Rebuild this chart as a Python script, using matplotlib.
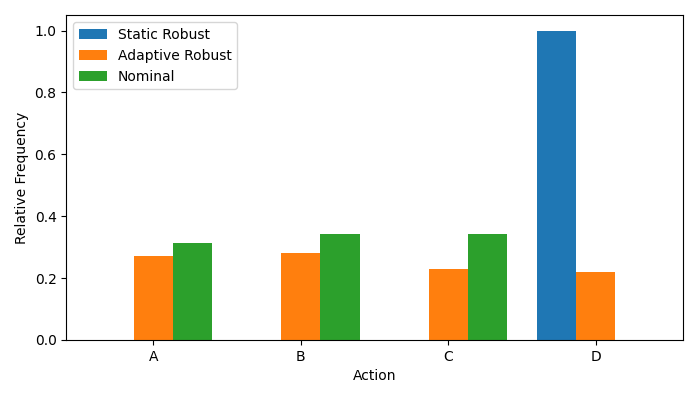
import matplotlib
matplotlib.use("Agg")
import matplotlib.pyplot as plt
import numpy as np

actions = ["A", "B", "C", "D"]
static_robust = [0.0, 0.0, 0.0, 1.0]
adaptive_robust = [0.27, 0.281, 0.229, 0.219]
nominal = [0.313, 0.343, 0.343, 0.0]

fig, ax = plt.subplots(figsize=(6.98, 3.99), dpi=100)
x = np.arange(len(actions))
w = 0.8 / 3

ax.bar(x - w, static_robust, w, label="Static Robust")
ax.bar(x, adaptive_robust, w, label="Adaptive Robust")
ax.bar(x + w, nominal, w, label="Nominal")

ax.set_xticks(x)
ax.set_xticklabels(actions)
ax.set_xlabel("Action")
ax.set_ylabel("Relative Frequency")
ax.legend(loc="upper left")

fig.subplots_adjust(left=0.095, right=0.978, top=0.962, bottom=0.148)
fig.savefig("out.png", dpi=100)
